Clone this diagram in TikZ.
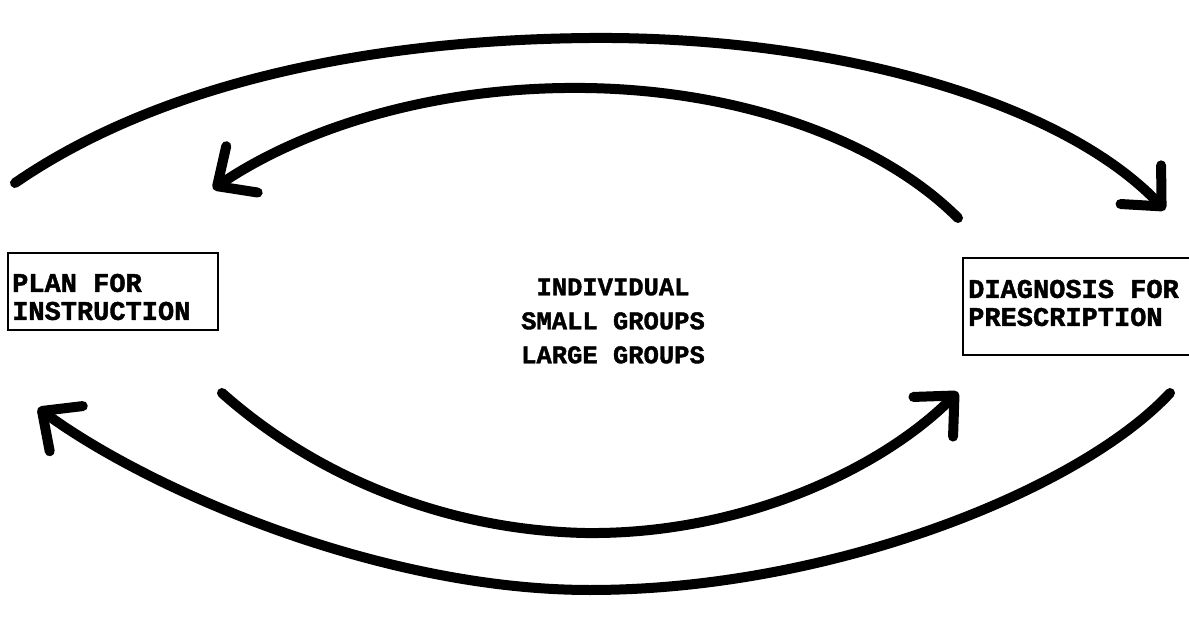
\documentclass[tikz,border=0pt]{standalone}
\usepackage{fontspec}
\setmonofont[FakeBold=1.5]{Liberation Mono}
\usetikzlibrary{arrows.meta}
\tikzset{
  boxframe/.style={draw, line width=2.5pt},
  boxtext/.style={align=left, inner sep=0pt, anchor=west, font=\ttfamily\bfseries\fontsize{27}{28}\selectfont},
  centertext/.style={align=center, inner sep=0pt, font=\ttfamily\bfseries\fontsize{25.5}{34}\selectfont},
  bigarrow/.style={line width=10pt, line cap=round, line join=round, -{Straight Barb[length=30pt,width=56pt,line cap=round,round]}}
}
\begin{document}
\begin{tikzpicture}[x=1pt,y=-1pt]
\useasboundingbox (0,0) rectangle (1189,620);
\clip (0,0) rectangle (1189,620);
\node[boxtext] (plan) at (12,297) {PLAN FOR\\INSTRUCTION};
\draw[boxframe] (8,253) rectangle (218,330);
\node[boxtext] (diag) at (968,303) {DIAGNOSIS FOR\\PRESCRIPTION};
\draw[boxframe] (963,258) rectangle (1205,355);
\node[centertext] (groups) at (613,321) {INDIVIDUAL\\SMALL GROUPS\\LARGE GROUPS};
% free ends
\coordinate (a1s) at (15,183);  \coordinate (a1m) at (590,38);  \coordinate (a1e) at (1165,210);
\coordinate (a2s) at (958,218); \coordinate (a2m) at (585,88);  \coordinate (a2e) at (213,189);
\coordinate (a3s) at (222,393); \coordinate (a3m) at (585,533); \coordinate (a3e) at (958,392);
\coordinate (a4s) at (1170,393);\coordinate (a4m) at (590,590); \coordinate (a4e) at (38,408);
\draw[bigarrow] (a1s) .. controls (150,90) and (350,40) .. (a1m) .. controls (830,36) and (1060,100) .. (a1e);
\draw[bigarrow] (a2s) .. controls (880,140) and (740,90) .. (a2m) .. controls (430,86) and (300,130) .. (a2e);
\draw[bigarrow] (a3s) .. controls (320,480) and (450,530) .. (a3m) .. controls (740,535) and (880,470) .. (a3e);
\draw[bigarrow] (a4s) .. controls (1080,490) and (830,590) .. (a4m) .. controls (380,590) and (150,490) .. (a4e);
\end{tikzpicture}
\end{document}
